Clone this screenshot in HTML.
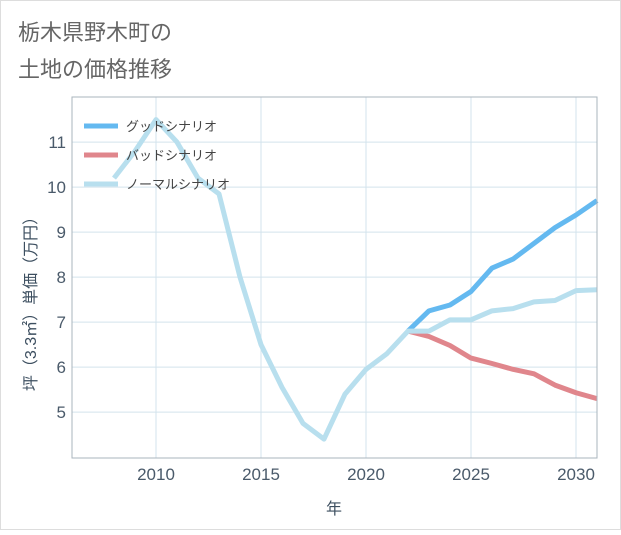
<!DOCTYPE html>
<html><head><meta charset="utf-8"><style>
body{margin:0;background:#fff}
svg text{font-family:"Liberation Sans","Noto Sans CJK JP",sans-serif}
</style></head><body>
<svg width="621" height="530" xmlns="http://www.w3.org/2000/svg">
<rect x="0.5" y="0.5" width="620" height="529" fill="#fff" stroke="#ddd"/>
<text x="18" y="40" font-size="22" fill="#666">栃木県野木町の</text>
<text x="18" y="77" font-size="22" fill="#666">土地の価格推移</text>
<g id="grid"></g><g id="series"></g><g id="axes"></g>
<rect x="72" y="97" width="525" height="361" fill="none" stroke="#aab4bc" stroke-width="1"/>
<text x="334" y="514" font-size="16" fill="#3d4f60" text-anchor="middle">年</text>
<text transform="translate(36,300) rotate(-90)" font-size="16" fill="#3d4f60" text-anchor="middle">坪（3.3㎡）単価（万円）</text>
<g>
<line x1="84" y1="126" x2="118" y2="126" stroke="#64b9f0" stroke-width="5"/>
<text x="126" y="131" font-size="13" fill="#444">グッドシナリオ</text>
<line x1="84" y1="155" x2="118" y2="155" stroke="#e0868c" stroke-width="5"/>
<text x="126" y="160" font-size="13" fill="#444">バッドシナリオ</text>
<line x1="84" y1="184" x2="118" y2="184" stroke="#b8dfee" stroke-width="5"/>
<text x="126" y="189" font-size="13" fill="#444">ノーマルシナリオ</text>
</g>
</svg>
<script>
const normalYears=[2008,2009,2010,2011,2012,2013,2014,2015,2016,2017,2018,2019,2020,2021,2022,2023,2024,2025,2026,2027,2028,2029,2030,2031];
const normalValues=[10.2,10.8,11.5,11.0,10.2,9.85,8.0,6.5,5.55,4.75,4.4,5.4,5.95,6.3,6.8,6.8,7.05,7.05,7.25,7.3,7.45,7.48,7.7,7.72];
const forecastYears=[2022,2023,2024,2025,2026,2027,2028,2029,2030,2031];
const goodValues=[6.8,7.25,7.38,7.68,8.2,8.4,8.75,9.1,9.38,9.7];
const badValues=[6.8,6.68,6.48,6.2,6.08,5.95,5.85,5.6,5.43,5.3];
const xTicks=[2010,2015,2020,2025,2030];
const yTicks=[5,6,7,8,9,10,11];
const NS="http://www.w3.org/2000/svg";
const X=y=>72+(y-2006)*21;
const Y=v=>458-(v-3.98)*45;
const grid=document.getElementById('grid'),axes=document.getElementById('axes'),ser=document.getElementById('series');
function mk(tag,attrs,parent){const e=document.createElementNS(NS,tag);for(const k in attrs)e.setAttribute(k,attrs[k]);parent.appendChild(e);return e;}
yTicks.forEach(t=>{
 const l=mk('line',{x1:72,x2:597,y1:Y(t),y2:Y(t),stroke:'#d3e3ec','stroke-width':1},grid);
 
 
 const tx=mk('text',{x:66,y:Y(t)+6,'font-size':17,fill:'#4a5a6a','text-anchor':'end'},axes);
 tx.textContent=t;
 
 
});
xTicks.forEach(t=>{
 const l=mk('line',{x1:X(t),x2:X(t),y1:97,y2:458,stroke:'#d3e3ec','stroke-width':1},grid);
 
 
 const tx=mk('text',{x:X(t),y:480,'font-size':17,fill:'#4a5a6a','text-anchor':'middle'},axes);
 tx.textContent=t;
 
 
});
function line(xs,vs,color,name){
 const p=mk('polyline',{points:xs.map((y,i)=>X(y)+','+Y(vs[i])).join(' '),fill:'none',stroke:color,'stroke-width':5,'stroke-linejoin':'round'},ser);
 
 
}
line(forecastYears,goodValues,'#64b9f0','good-scenario-line');
line(forecastYears,badValues,'#e0868c','bad-scenario-line');
line(normalYears,normalValues,'#b8dfee','normal-scenario-line');
</script>
</body></html>
